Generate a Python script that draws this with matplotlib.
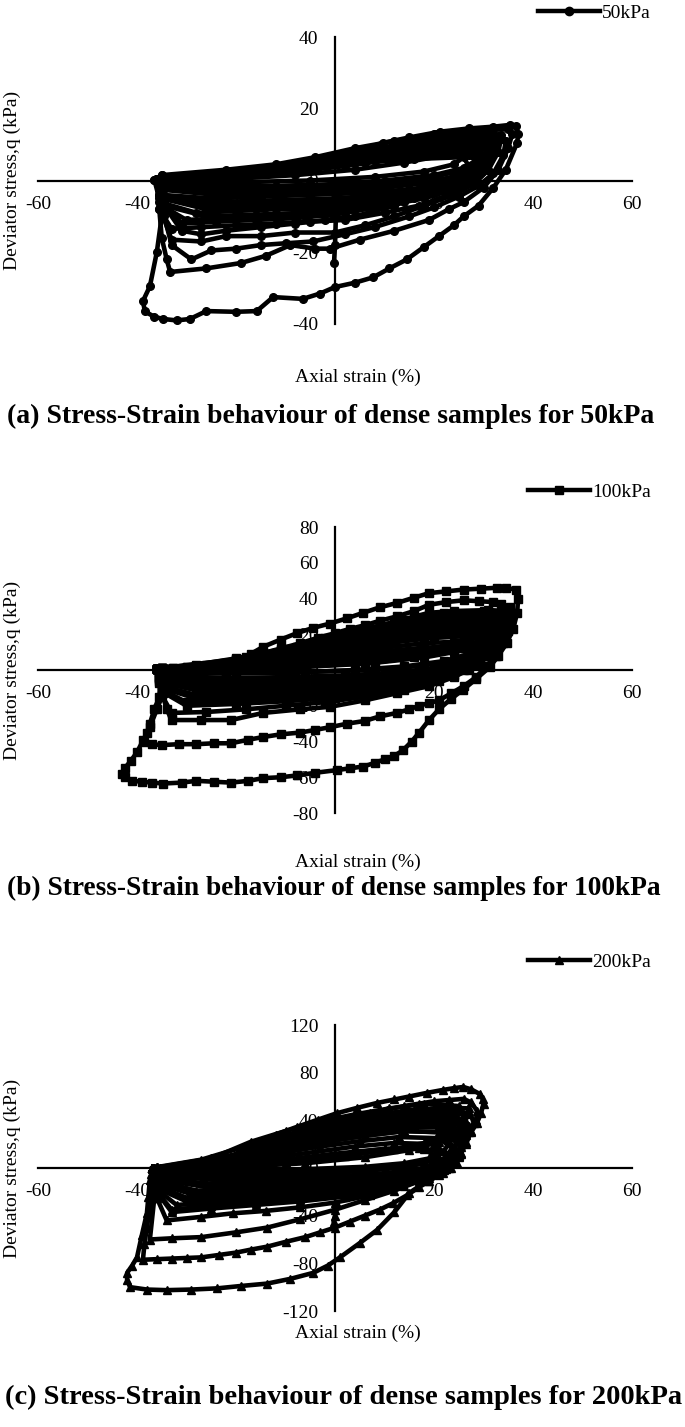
import matplotlib
matplotlib.use("Agg")
import matplotlib.pyplot as plt
from matplotlib.lines import Line2D

plt.rcParams['font.family'] = ['Liberation Serif', 'DejaVu Serif']
plt.rcParams['axes.unicode_minus'] = False

# ---------------- data: panel (a) 50 kPa ----------------
a_strain = [
    [-34, -35, -36, -37.4, -38.8, -38.4, -36.5, -34.7, -32, -29.3, -26, -20, -15.8, -12.5, -6.5, -3, 0, 4, 7.7, 11, 14.5, 18, 21, 24, 26, 29, 32, 34.5, 36.8, 37, 36.5, 35.4, 32, 27, 21.2, 15, 9.7, 3.6, 0, -4, -8, -12, -17, -22, -27, -31, -34],
    [-35, -35.5, -35, -34, -33.3, -26, -19, -14, -9, -4, -1, 5, 12, 19, 23, 26, 30, 33, 35, 35.8, 35, 30, 24, 18, 12, 6, 0, -6, -12, -20, -28, -35],
    [-35, -34.5, -33, -29, -25, -20, -15, -10, -4.5, 2, 8, 15, 20, 25, 29, 32, 34, 34.5, 33.5, 28, 22, 16, 10, 4, -2, -8, -15, -25, -35],
    [-35.5, -35, -33, -27, -22, -15, -8, 0, 6, 12, 18, 24, 28, 31, 33, 33.5, 32, 26, 20, 14, 8, 2, -5, -12, -20, -28, -35.5],
    [-36, -35.5, -33, -27, -20, -12, -5, 2, 10, 17, 23, 28, 31, 32.5, 31, 26, 18, 10, 3, -4, -12, -20, -28, -36],
    [-36, -35, -30, -22, -14, -6, 2, 10, 18, 24, 28, 30.5, 31.5, 30, 24, 16, 8, 0, -8, -16, -25, -36],
    [-36, -35.5, -28, -20, -12, -4, 4, 12, 20, 25, 28.5, 30.5, 29, 22, 14, 6, -2, -10, -18, -27, -36],
    [-36.5, -35.5, -26, -16, -6, 4, 14, 22, 27, 29.5, 28, 20, 12, 4, -4, -12, -22, -36.5],
    [-36, -35, -25, -15, -5, 5, 15, 22, 26.5, 28.5, 27, 18, 8, 0, -8, -18, -28, -36],
    [-36, -35.5, -24, -12, 0, 10, 18, 24, 27, 26, 16, 6, -4, -14, -25, -36],
    [-35.5, -35, -20, -5, 8, 18, 24, 26.5, 24, 14, 4, -6, -16, -26, -35.5],
    [-35, -34.5, -20, -8, 4, 14, 22, 27, 29, 27, 20, 12, 4, -4, -12, -22, -35],
    [-36, -35.5, -24, -12, 0, 10, 20, 26, 29, 30, 27, 20, 12, 4, -4, -12, -22, -36],
    [-36, -35.5, -24, -12, 0, 10, 20, 26, 29.5, 31, 28, 20, 12, 4, -4, -12, -22, -36],
    [-36, -35.5, -24, -12, 0, 10, 20, 26, 30, 32, 29, 20, 12, 4, -4, -12, -22, -36],
    [-35.5, -35, -26, -14, -2, 8, 18, 25, 29, 31.5, 29, 22, 14, 6, -2, -10, -20, -35.5],
    [-35, -34.5, -26, -16, -6, 4, 14, 22, 27, 30, 31, 28, 20, 12, 4, -4, -12, -22, -35],
    [-34.5, -34, -31, -27, -22, -15, -8, -2, 4, 12, 20, 27, 31, 33, 30, 22, 14, 6, -2, -10, -20, -34.5],
    [-35.5, -35, -22, -10, 2, 12, 20, 26, 30, 33, 30, 22, 14, 6, -2, -10, -20, -35.5],
    [-36, -35.5, -25, -14, -3, 7, 16, 23, 28, 31, 33, 30, 22, 14, 6, -2, -10, -20, -36],
    [-35, -34, -20, -8, 2, 12, 20, 26, 30, 32, 28, 20, 12, 4, -4, -12, -22, -35],
    [-35, -34.5, -31, -24, -16, -8, 0, 8, 16, 22, 27, 30, 32.5, 29, 22, 14, 6, -2, -10, -20, -35],
    [0.3, 0, -0.2],
]
a_stress = [
    [0.5, -10, -20, -29.5, -33.6, -36.5, -38, -38.6, -39, -38.6, -36.4, -36.6, -36.4, -32.5, -33, -31.5, -29.7, -28.5, -27, -24.5, -22, -18.5, -15.5, -12.5, -10, -7, -2, 3, 10.5, 13, 15.2, 15.5, 15, 14.5, 13.6, 12, 10.5, 7.8, 6.5, 5.5, 4.5, 3, 2.5, 2, 1.5, 1, 0.5],
    [0.5, -8, -16, -22, -25.5, -24.5, -23, -21, -18, -19, -19, -16.5, -14, -11, -8, -6, -2, 3, 9, 13, 14.3, 14, 13, 11.5, 9.5, 7.5, 6, 4.5, 3, 2, 1, 0.5],
    [0.5, -10, -18, -22, -19.5, -19, -18, -17.5, -17, -15, -13, -10, -7.5, -4.5, -1.5, 2, 7, 11, 12.8, 12.5, 11.5, 10, 8.5, 7, 5.5, 4, 2.5, 1.5, 0.5],
    [0.3, -9, -16.5, -17, -15.5, -15.5, -14.5, -14.5, -12.5, -10, -7, -4, -1, 3, 8, 11.5, 12, 11.5, 10.5, 9, 7.5, 6, 4.5, 3, 2, 1, 0.3],
    [0.3, -8, -13.5, -13, -12.5, -12, -11.5, -11, -9, -7, -4, -1, 3, 8, 10.5, 10.2, 9, 7.5, 5.5, 4, 3, 2, 1, 0.3],
    [0.3, -7, -11, -10.5, -10, -10, -9, -7, -5, -2.5, 0, 4, 8, 9.5, 9.3, 8, 6.5, 5, 3.5, 2.2, 1.2, 0.3],
    [0.2, -6, -9, -8.5, -8, -8, -7, -5.5, -3.5, -1.5, 1.5, 6, 8.5, 8.3, 7, 5.5, 4, 3, 2, 1, 0.2],
    [0.2, -5, -7, -6.5, -6, -5.5, -4, -2, 1, 5, 7.5, 7.2, 6, 5, 3.5, 2.5, 1.5, 0.2],
    [0.3, -4, -5, -4.5, -4, -3.5, -2.5, -1, 2, 5.5, 7, 6.7, 5.5, 4.5, 3.2, 2, 1, 0.3],
    [0.3, -2.5, -3, -2.5, -2, -1.5, -0.5, 1, 4, 6.5, 6, 5, 3.5, 2.5, 1.2, 0.3],
    [0.5, -1, -0.5, 0, 1, 2.5, 4.5, 7, 9, 8.5, 7, 4.5, 3, 1.5, 0.5],
    [1, 0, 0.5, 1.5, 3, 5, 7, 9, 11, 12, 11, 9.5, 8, 6, 4, 2.5, 1],
    [0.3, -1, -1.5, -1.5, -1, 0, 1.5, 3.5, 6, 10, 11, 10, 8.5, 6.5, 5, 3.5, 2, 0.3],
    [0.3, -2.5, -4, -3.5, -3, -2, -0.5, 2, 5, 10, 11.5, 10.5, 9, 7, 5, 3.5, 2, 0.3],
    [0.3, -4, -6, -5.5, -5, -4, -2, 0.5, 4, 10, 12, 11, 9.5, 7.5, 5.5, 3.5, 2, 0.3],
    [0.3, -5, -8, -7.5, -7, -6, -3.5, -0.5, 3, 9, 11, 10.5, 9, 7.5, 5.5, 3.5, 2, 0.3],
    [0.3, -7, -10, -9.5, -9, -8, -6, -3, 0, 4, 9, 10, 9.5, 8, 6.5, 4.5, 3, 1.5, 0.3],
    [0.5, -8, -14, -15, -14, -13, -12, -11, -10, -7, -3, 2, 7, 12.5, 13, 11.5, 9.5, 7.5, 5, 3, 1.5, 0.5],
    [0.5, -1.5, -2.5, -2, -1.5, -0.5, 1, 3, 6, 12, 13, 12, 10.5, 8, 6, 4, 2.5, 0.5],
    [0.2, -4, -7, -6.5, -6, -5, -3, -0.5, 2.5, 6, 11, 12, 11.5, 10, 8, 6, 4, 2.5, 0.2],
    [1.5, 0.5, 1.5, 2.5, 4, 6, 8, 10, 11, 13, 14, 13, 11, 9, 6.5, 4.5, 3, 1.5],
    [0.5, -6, -12, -11.5, -11, -10.5, -9.5, -7.5, -5, -2.5, 0.5, 4, 10, 12, 11.5, 10, 8, 6, 4, 2.5, 0.5],
    [-5, -18, -23],
]

# ---------------- data: panel (b) 100 kPa ----------------
b_strain = [
    [-32.7, -33.5, -34.7, -36, -37.4, -38.7, -40, -41.3, -42.5, -43, -42.5, -41, -39, -37, -34.7, -31, -28, -24.5, -21, -17.5, -14.5, -11, -7.7, -4, 0.4, 3, 5.7, 8, 10, 12, 13.7, 15.5, 17, 19, 21, 23.5, 25.9, 28.5, 31.3, 33, 34.7, 36, 36.8, 37, 36.5, 34.5, 32.7, 29.5, 26, 22.5, 19, 16, 12.5, 9, 5.7, 2.5, -1, -4.5, -7.7, -11, -14.5, -17, -19.8, -22, -24.6, -28.5, -32.7],
    [-34, -35, -35.5, -36.5, -37.4, -38, -38.5, -37, -35, -31.5, -28, -24.5, -21, -17.5, -14.5, -11, -7, -4, -1, 2.5, 6, 9, 12.5, 15, 17, 19, 21, 23.5, 26, 28.5, 30.5, 32.5, 34, 35, 35.5, 35.6, 35.4, 33.5, 32, 29, 26, 22.5, 19, 16, 12.5, 9, 6, 3, 0, -3.5, -7, -11, -14.5, -18, -21, -24.5, -28, -31, -34],
    [-34, -35, -34, -33, -27, -21, -14.5, -7, -1, 6, 12.5, 19, 24, 29, 32.5, 34.5, 35, 31, 24, 19, 12, 5.7, -1, -7.7, -15, -22, -34],
    [-34.5, -35, -33, -26, -18, -10, -2, 6, 14, 21, 27, 31, 33.5, 34, 30, 22, 14, 6, -2, -10, -18, -26, -34.5],
    [-35, -35, -30, -20, -10, 0, 10, 18, 24, 29, 32, 33.5, 30, 22, 14, 6, -2, -10, -18, -27, -35],
    [-35.5, -35, -28, -18, -8, 2, 12, 20, 26, 30, 32.5, 28, 20, 12, 4, -4, -12, -20, -28, -35.5],
    [-36, -35.5, -26, -16, -6, 4, 14, 22, 27, 30.5, 31.5, 26, 18, 10, 2, -6, -14, -22, -30, -36],
    [-36, -35.5, -25, -14, -3, 8, 17, 24, 28, 30.5, 26, 18, 10, 2, -6, -14, -22, -30, -36],
    [-36, -35.5, -22, -10, 2, 12, 20, 26, 29, 26, 18, 8, -2, -12, -24, -36],
    [-36, -35.5, -20, -6, 8, 18, 25, 28, 24, 14, 4, -6, -18, -36],
    [-35, -34, -20, -6, 8, 18, 26, 31, 33.5, 30, 22, 14, 6, -2, -10, -20, -35],
    [-35, -34.5, -22, -8, 6, 16, 24, 29, 32, 28, 20, 12, 4, -4, -12, -22, -35],
    [-36, -35.5, -24, -12, 0, 10, 18, 24, 28, 31, 28, 20, 12, 4, -4, -12, -20, -28, -36],
    [-36, -35.5, -26, -16, -6, 4, 14, 22, 27, 30, 32, 28, 20, 12, 4, -4, -12, -20, -28, -36],
    [-35.5, -35, -28, -18, -8, 2, 12, 20, 26, 30, 33, 29, 22, 14, 6, -2, -10, -18, -26, -35.5],
    [-35, -35, -30, -20, -10, 0, 10, 18, 24, 29, 33, 30, 22, 14, 6, -2, -10, -18, -27, -35],
    [-35, -34, -20, -6, 8, 18, 24, 28, 30.5, 27, 20, 12, 4, -4, -12, -22, -35],
    [-36, -35.5, -22, -8, 4, 14, 22, 27, 30, 31, 27, 20, 12, 4, -4, -12, -22, -36],
    [-35, -34, -22, -10, 0, 10, 18, 24, 29, 33, 30, 22, 14, 6, -2, -10, -20, -35],
    [-36, -35.5, -25, -14, -3, 8, 17, 23, 28, 32, 29, 21, 13, 5, -3, -11, -20, -28, -36],
    [-35.5, -35, -27, -17, -7, 3, 13, 21, 26, 30, 33.5, 30, 22, 14, 6, -2, -10, -18, -26, -35.5],
]
b_stress = [
    [1, -6, -13, -22, -32, -39, -46, -51, -55, -58, -60, -62, -62.5, -63, -63.5, -63, -62, -62.5, -63, -62, -60.5, -60, -59, -57.5, -56, -55, -54, -52, -50, -48, -45, -40, -35, -28, -22, -16, -11, -5, 1.7, 8, 15, 23, 32, 40, 45, 46, 46, 45.5, 45, 44, 43, 40.5, 37.5, 35, 32, 29, 26, 23.5, 20.6, 17, 13, 9, 5.6, 3.5, 1.7, 1.2, 1],
    [0.5, -7, -15, -22, -30, -35, -40, -41.5, -42, -41.5, -41.5, -41, -41, -39, -37.5, -36, -35, -33.5, -32, -30, -28.5, -26, -24, -22, -20, -18.5, -17, -13, -9, -4, 2, 8, 15, 22, 28, 32, 35, 37, 38, 38.5, 39, 38, 36.5, 33, 30, 27.5, 25, 23, 20.6, 18, 15, 12, 9.5, 6.5, 4, 2.5, 1.5, 1, 0.5],
    [0.5, -12, -22, -28, -28, -28, -24, -22, -20.6, -17, -13, -9, -4, 3, 12, 24, 33, 33.5, 33, 32, 27, 22, 17, 13, 8, 3, 0.5],
    [0.5, -14, -24, -23.5, -22, -20, -18, -15, -11, -6, 0, 8, 18, 28, 29, 28, 24, 19, 14, 9, 5, 2, 0.5],
    [0.5, -12, -20, -19, -17.5, -15.5, -12, -8, -3, 4, 13, 24, 26, 25, 21.5, 17.5, 13, 8.5, 5, 2, 0.5],
    [0.5, -10, -16, -15, -14, -12, -9, -5, 0, 8, 20, 22, 21, 18, 14.5, 11, 7.5, 4.5, 2, 0.5],
    [0.5, -7, -12, -11, -10, -8.5, -6, -2, 3, 10, 18, 19, 18, 15, 12, 8.5, 6, 3.5, 1.5, 0.5],
    [0.5, -5, -8, -7.5, -6.5, -5, -2.5, 1, 6, 14, 16, 15, 12.5, 10, 7, 5, 3, 1.5, 0.5],
    [0.5, -3, -4.5, -4, -3, -1.5, 1, 5, 12, 13.5, 12.5, 10, 6.5, 4, 2, 0.5],
    [0.5, -1, -1.5, -1, 0, 2.5, 6, 10, 11, 10, 8, 5.5, 3, 0.5],
    [1, 0, 1, 3, 6, 10, 15, 21, 28, 30, 28.5, 25, 20.5, 16, 11, 5.5, 1],
    [0.8, -0.5, 0, 1.5, 3.5, 7, 11, 16, 23, 25, 24, 21, 17, 13, 9, 4, 0.8],
    [0.5, -4, -6, -5.5, -4.5, -3, -0.5, 3, 8, 18, 21, 20, 17, 13.5, 10, 7, 4.5, 2, 0.5],
    [0.5, -6, -10, -9.5, -8.5, -7, -4.5, -1, 4, 10, 22, 24, 23, 20, 16, 12, 8, 4.5, 2, 0.5],
    [0.5, -9, -14, -13, -12, -10.5, -7.5, -3.5, 1, 8, 24, 27, 26, 23, 19, 14.5, 10, 6, 2.5, 0.5],
    [0.5, -11, -18, -17, -15.5, -13.5, -10, -6, -1, 6, 26, 28.5, 27.5, 24, 19.5, 15, 10, 6, 2.5, 0.5],
    [1, 0, 0.5, 2, 4, 7, 10, 13, 18, 19, 18, 15.5, 12, 9, 6, 3, 1],
    [0.5, -1.5, -2, -1.5, 0, 2, 5, 9, 14, 22, 24, 22, 18.5, 14.5, 10.5, 7, 3.5, 0.5],
    [1, 0, 1, 3, 5, 8, 11, 15, 20, 31, 33, 32, 28, 23, 18, 12, 6, 1],
    [0.5, -4.5, -7, -6.5, -5.5, -3.5, -1, 2.5, 8, 28, 30, 29, 25.5, 21, 16.5, 11.5, 6.5, 3, 0.5],
    [0.5, -7, -12, -11, -10, -8, -5.5, -1.5, 3, 9, 30, 31.5, 30.5, 27, 22.5, 17, 12, 7, 3, 0.5],
]

# ---------------- data: panel (c) 200 kPa ----------------
c_strain = [
    [-36.8, -37.1, -37.4, -37.7, -38, -39, -40, -41, -42, -42, -41.4, -38, -34, -29, -23.8, -19, -13.7, -9, -4.4, -1.5, 1, 5, 8.5, 12, 15, 18.5, 21.8, 23.5, 24.6, 25.3, 26, 27.5, 28.7, 29.5, 30, 29.8, 29.3, 27.5, 25.9, 24, 21.8, 18.5, 15, 12, 8.5, 4.5, 0.4, -3.5, -7.7, -12, -16.5, -19.5, -21.8, -23.5, -25, -30, -35.4],
    [-36, -36.5, -37, -37.5, -38, -38.5, -38.8, -36, -33, -30, -27, -23.5, -20, -17, -13.7, -10, -6, -3, 0, 3, 6, 9, 11.7, 14.5, 17, 19, 21, 22.5, 24, 25.5, 26.5, 27.5, 28.5, 28.7, 27.5, 26, 23, 20, 17, 14, 10.5, 7, 3.5, 0, -3.5, -7, -10.5, -14, -17, -20, -22.5, -25, -30, -36],
    [-36, -36.5, -37.4, -33, -27, -20, -13.7, -7, 0, 6, 12, 17, 21, 24, 26.5, 28, 27, 22, 15, 8, 1, -6, -13, -20, -26, -36],
    [-36.5, -36, -34, -27, -20.6, -14, -7, 0, 7, 14, 19, 23, 25.5, 27, 26, 20, 13, 6, -1, -8, -15, -22, -28, -36.5],
    [-36.5, -36, -33, -25, -16, -7, 2, 10, 17, 22, 25, 26.5, 24, 17, 10, 3, -4, -11, -18, -26, -36.5],
    [-37, -36.5, -30, -21, -12, -3, 6, 14, 20, 24, 26, 23, 16, 8, 0, -8, -16, -24, -37],
    [-37, -36.5, -28, -18, -8, 2, 11, 18, 23, 25.5, 22, 14, 6, -2, -10, -18, -26, -37],
    [-37, -36.5, -26, -15, -4, 6, 15, 21, 24.5, 21, 13, 5, -3, -11, -20, -28, -37],
    [-37, -36.5, -24, -12, 0, 10, 18, 23, 20, 12, 4, -4, -12, -22, -37],
    [-37, -36.5, -22, -8, 6, 15, 21, 18, 10, 0, -10, -22, -37],
    [-36, -35, -20, -6, 6, 15, 21, 25, 27, 24, 17, 10, 3, -4, -11, -18, -25, -36],
    [-37, -36.5, -26, -14, -2, 8, 16, 21, 24, 21, 14, 6, -2, -10, -18, -27, -37],
    [-37, -36.5, -28, -17, -6, 4, 13, 19, 23, 25, 22, 15, 7, -1, -9, -17, -26, -37],
    [-37, -36.5, -30, -20, -10, 0, 9, 17, 22, 25, 26, 23, 16, 8, 0, -8, -16, -24, -37],
    [-36.5, -36, -32, -24, -14, -5, 4, 12, 18, 22, 25, 26.5, 24, 17, 10, 3, -4, -11, -18, -26, -36.5],
    [-37, -36.5, -20, -6, 6, 14, 19, 21, 17, 10, 0, -10, -22, -37],
    [-37, -36.5, -24, -12, 0, 10, 18, 22, 24, 21, 13, 5, -3, -11, -19, -28, -37],
    [-37, -36.5, -29, -19, -9, 1, 10, 17, 22, 25, 26, 23, 16, 9, 2, -5, -12, -19, -27, -37],
    [-36.5, -36, -33, -25, -16, -7, 2, 10, 17, 22, 25, 27, 25, 18, 11, 4, -3, -10, -17, -25, -36.5],
    [-36, -35, -22, -10, 2, 12, 18, 22, 25, 23, 16, 9, 2, -5, -12, -20, -28, -36],
    [0.5, 0, -0.3],
]
c_stress = [
    [0, -5, -10, -24, -38, -56, -75, -82, -88, -94, -100, -102, -102.5, -102, -101, -99, -97, -93, -88, -82, -75, -63, -52, -37, -21, -11, -4, 0, 4, 12, 21, 30, 38, 46, 54, 58, 62, 66, 68, 67, 65.5, 63, 60, 57.5, 54.6, 50.5, 46, 40.5, 34.5, 28, 21, 13, 6.7, 4, 2.5, 1, 0],
    [0, -10, -20, -35, -50, -64, -77, -76.5, -76, -75.5, -75, -73, -71, -68.5, -66, -62, -58, -54, -50, -45, -40, -35, -29.6, -23, -16, -11, -6, -0.5, 5, 13, 22, 31, 40, 48, 55, 58, 57, 56, 54, 52, 49, 46.5, 43, 40, 35.5, 31, 26, 21, 15.5, 10, 6, 3, 1, 0],
    [0, -25, -60, -59, -58, -54, -50, -43, -35, -27, -19, -11, -4, 5, 20, 38, 50, 51, 48, 43, 37, 29, 20, 11, 4, 0],
    [0, -25, -44, -41, -38, -36, -33, -29, -23, -15, -8, 0, 12, 30, 45, 46, 43, 38.5, 32, 25, 17, 9, 3, 0],
    [0, -20, -35, -32, -29, -26, -22, -16, -9, -1, 12, 28, 40, 40.5, 37, 32.5, 27, 20.5, 13, 5, 0],
    [0, -16, -28, -26, -24, -21, -17, -11, -4, 6, 22, 35, 36, 32, 27, 20, 13, 5, 0],
    [0, -12, -22, -20, -18, -15, -11, -5, 4, 18, 30, 31, 27, 22, 16, 10, 4, 0],
    [0, -9, -16, -14.5, -12.5, -10, -6, 1, 14, 25, 26, 22.5, 18, 12.5, 7, 2.5, 0],
    [0, -6, -10, -8.5, -7, -4.5, 0, 10, 20, 21, 18, 13.5, 9, 4, 0],
    [0, -3, -5, -4, -2, 1, 8, 16, 16, 12, 7, 2.5, 0],
    [0.5, -1, 1, 4, 9, 15, 22, 32, 45, 49, 47, 42, 36, 29, 21, 13, 5, 0.5],
    [0, -8, -13, -11.5, -9.5, -7, -3, 3, 18, 30, 31, 27, 22, 16, 9, 3, 0],
    [0, -10, -19, -17.5, -15, -12, -8, -2, 6, 24, 34, 34.5, 30, 24.5, 18, 11, 4, 0],
    [0, -14, -25, -23, -21, -18, -14, -8, -1, 9, 28, 38, 39, 35, 29, 22, 14, 5, 0],
    [0, -18, -31, -29, -26.5, -23.5, -19.5, -14, -8, -1, 10, 30, 43, 44, 40, 35, 29, 22, 14, 5, 0],
    [0, -1, -2, -1, 1, 4, 8, 14, 17, 16, 11, 6.5, 2, 0],
    [0, -4, -7, -6, -4, -1, 4, 14, 28, 36, 37, 33, 27, 20, 12, 4, 0],
    [0, -12, -22, -20.5, -18.5, -15, -11, -5, 2, 14, 38, 48, 49, 45, 40, 33, 25.5, 17, 7, 0],
    [0, -20, -37, -34, -31, -28, -24, -18, -10, -2, 10, 35, 52, 54, 50, 45, 39, 31, 22, 8, 0],
    [0.5, -0.5, 1.5, 5, 10, 16, 21, 27, 40, 44, 43, 39, 34, 27, 20, 11, 4, 0.5],
    [-30, -40, -45],
]

x_ticks = [-60, -40, -20, 0, 20, 40, 60]
a_yticks = [-40, -20, 0, 20, 40]
b_yticks = [-80, -60, -40, -20, 0, 20, 40, 60, 80]
c_yticks = [-120, -80, -40, 0, 40, 80, 120]
series_names = ["50kPa", "100kPa", "200kPa"]
markers = ["o", "s", "^"]
captions = [
    "(a) Stress-Strain behaviour of dense samples for 50kPa",
    "(b) Stress-Strain behaviour of dense samples for 100kPa",
    "(c) Stress-Strain behaviour of dense samples for 200kPa",
]

W, H = 685, 1427
fig = plt.figure(figsize=(W / 100, H / 100), dpi=100)

panels = [
    dict(xs=a_strain, ys=a_stress, yt=a_yticks, top=37, bot=324, leg=13, xl=377, cap=416, cx=331, cfs=20),
    dict(xs=b_strain, ys=b_stress, yt=b_yticks, top=527, bot=813, leg=492, xl=862, cap=888, cx=334, cfs=19.7),
    dict(xs=c_strain, ys=c_stress, yt=c_yticks, top=1025, bot=1311, leg=962, xl=1333, cap=1397, cx=344, cfs=20.5),
]

FS = 14
for i, p in enumerate(panels):
    left, right = 38, 632
    ax = fig.add_axes([left / W, 1 - p['bot'] / H, (right - left) / W, (p['bot'] - p['top']) / H])
    for xs, ys in zip(p['xs'], p['ys']):
        ax.plot(xs, ys, color='black', lw=3.3, marker=markers[i], ms=5.5,
                mfc='black', mec='black', zorder=3, solid_joinstyle='round',
                solid_capstyle='round')
    ax.set_xlim(-60, 60)
    ax.set_ylim(p['yt'][0], p['yt'][-1])
    ax.set_xticks(x_ticks)
    ax.set_yticks(p['yt'])
    ax.spines['left'].set_position(('data', 0))
    ax.spines['bottom'].set_position(('data', 0))
    ax.spines['right'].set_visible(False)
    ax.spines['top'].set_visible(False)
    for s in ('left', 'bottom'):
        ax.spines[s].set_linewidth(1.6)
        ax.spines[s].set_zorder(2)
    ax.tick_params(axis='both', length=0, labelsize=FS)
    ax.tick_params(axis='x', pad=11)
    ax.tick_params(axis='y', pad=12)
    ax.patch.set_alpha(0)

    handle = Line2D([], [], color='black', lw=3.2, marker=markers[i], ms=6)
    fig.legend(handles=[handle], labels=[series_names[i]], loc='center right',
               bbox_to_anchor=(651 / W, 1 - p['leg'] / H), frameon=False,
               fontsize=FS, handlelength=3.2, handletextpad=0.1, borderaxespad=0,
               borderpad=0)

    fig.text(358 / W, 1 - p['xl'] / H, "Axial strain (%)", ha='center', va='center', fontsize=FS)
    fig.text(12 / W, 1 - ((p['top'] + p['bot']) / 2) / H, "Deviator stress,q (kPa)",
             ha='center', va='center', rotation=90, fontsize=FS)
    fig.text(p['cx'] / W, 1 - p['cap'] / H, captions[i], ha='center', va='center',
             fontsize=p['cfs'], fontweight='bold')

fig.savefig("out.png", dpi=100)
